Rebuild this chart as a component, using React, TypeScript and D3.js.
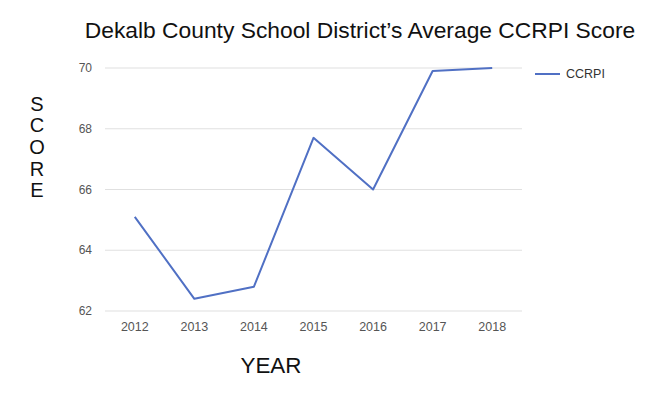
import * as d3 from "d3";
import { useEffect, useRef } from "react";

// chart data
const years = ["2012", "2013", "2014", "2015", "2016", "2017", "2018"];
const ccrpi = [65.1, 62.4, 62.8, 67.7, 66.0, 69.9, 70.0];
const yTicks = [62, 64, 66, 68, 70];
const seriesName = "CCRPI";

const App = () => {
  const ref = useRef<SVGSVGElement>(null);

  useEffect(() => {
    if (ref && ref.current) ref.current.innerHTML = "";

    const width = 672;
    const height = 399;
    const font = "Arial, 'Liberation Sans', sans-serif";

    const svg = d3.select(ref.current)
      .attr("width", width)
      .attr("height", height)
      .attr("viewBox", [0, 0, width, height])
      .style("font-family", font);

    svg.append("rect").attr("width", width).attr("height", height).attr("fill", "#fff");

    // plot area
    const left = 105, right = 522, top = 68, bottom = 311;

    const x = d3.scalePoint().domain(years).range([left, right]).padding(0.5);
    const y = d3.scaleLinear().domain([62, 70]).range([bottom, top]);

    // gridlines
    svg.append("g")
      .selectAll("line")
      .data(yTicks)
      .join("line")
        .attr("x1", left)
        .attr("x2", right)
        .attr("y1", d => y(d))
        .attr("y2", d => y(d))
        .attr("stroke", "#e0e0e0")
        .attr("stroke-width", 1.2);

    // y tick labels
    svg.append("g")
      .selectAll("text")
      .data(yTicks)
      .join("text")
        .attr("x", 92)
        .attr("y", d => y(d))
        .attr("dy", "0.35em")
        .attr("text-anchor", "end")
        .attr("font-size", 12)
        .attr("fill", "#555")
        .text(d => d);

    // x tick labels
    svg.append("g")
      .selectAll("text")
      .data(years)
      .join("text")
        .attr("x", d => x(d)!)
        .attr("y", 327)
        .attr("dy", "0.35em")
        .attr("text-anchor", "middle")
        .attr("font-size", 12.5)
        .attr("fill", "#555")
        .text(d => d);

    // the line
    const line = d3.line<number>()
      .x((d, i) => x(years[i])!)
      .y(d => y(d));

    svg.append("path")
      .datum(ccrpi)
      .attr("d", line)
      .attr("fill", "none")
      .attr("stroke", "#5070c4")
      .attr("stroke-width", 2)
      .attr("stroke-linejoin", "round");

    // legend
    svg.append("line")
      .attr("x1", 535).attr("x2", 560)
      .attr("y1", 74).attr("y2", 74)
      .attr("stroke", "#5070c4")
      .attr("stroke-width", 2);
    svg.append("text")
      .attr("x", 566)
      .attr("y", 74)
      .attr("dy", "0.35em")
      .attr("font-size", 12.5)
      .attr("fill", "#333")
      .text(seriesName);

    // title
    svg.append("text")
      .attr("x", 360)
      .attr("y", 37.5)
      .attr("text-anchor", "middle")
      .attr("font-size", 22.8)
      .attr("fill", "#111")
      .text("Dekalb County School District\u2019s Average CCRPI Score");

    // y axis title, stacked letters
    svg.append("g")
      .selectAll("text")
      .data("SCORE".split(""))
      .join("text")
        .attr("x", 37)
        .attr("y", (d, i) => 110.5 + i * 21.7)
        .attr("text-anchor", "middle")
        .attr("font-size", 20)
        .attr("fill", "#111")
        .text(d => d);

    // x axis title
    svg.append("text")
      .attr("x", 271)
      .attr("y", 373)
      .attr("text-anchor", "middle")
      .attr("font-size", 22.4)
      .attr("fill", "#111")
      .text("YEAR");
  }, []);

  return <svg ref={ref} style={{ position: "absolute", left: 0, top: 0 }} />;
};

export default App;
